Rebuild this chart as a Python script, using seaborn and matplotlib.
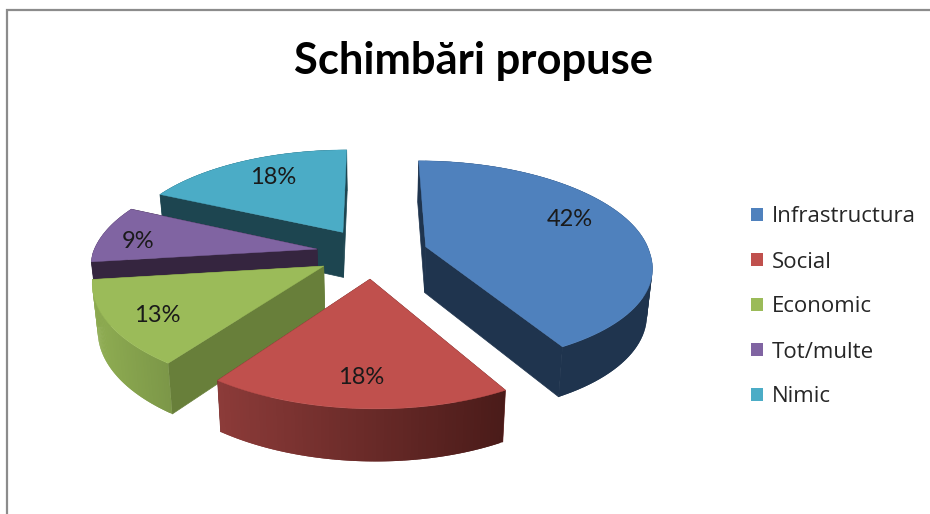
import numpy as np
import seaborn as sns
import matplotlib.pyplot as plt
from matplotlib.patches import Patch
from matplotlib.colors import to_rgb

# data
categories = ['Infrastructura', 'Social', 'Economic', 'Tot/multe', 'Nimic']
values = [42, 18, 13, 9, 18]
title = 'Schimbări propuse'

# colours: top face, flat side, rim left end, rim right end
top_colors = ['#4f81bd', '#c0504d', '#9bbb59', '#8064a2', '#4bacc6']
side_colors = ['#1f344e', '#6f2e2c', '#687f3a', '#35253f', '#1d4550']
rim_left = ['#1f344e', '#8c3b39', '#8fad52', '#35253f', '#1d4550']
rim_right = ['#1f344e', '#4a1b19', '#7c9748', '#35253f', '#1d4550']

# where the percent labels sit
label_x = [570, 361, 157, 138, 273]
label_y = [219, 378, 315, 241, 177]

# painter's order, back to front
draw_order = [4, 0, 3, 2, 1]

# perspective of the pie
cx, cy = 372, 253
rx, ry = 224, 100.9
persp = 0.153
shear = 6.5
explode = 0.25
depth = 46

sns.set_theme(style='white')
plt.rcParams['font.family'] = ['Lato', 'DejaVu Sans']


def project(x, y, low=False):
    w = 1 + persp * y
    sx = rx * x / w + shear * np.maximum(0, -y)
    sy = -ry * y / w
    if low:
        return cx + sx * 0.98, cy + sy + depth / (1 + 0.1 * y)
    return cx + sx, cy + sy


fig = plt.figure(figsize=(9.3, 5.14), dpi=100)
ax = fig.add_axes([0, 0, 1, 1])
ax.set_xlim(0, 930)
ax.set_ylim(514, 0)
ax.axis('off')

# chart frame
ax.plot([7, 7, 930], [514, 10, 10], color='#8c8c8c', lw=1.6, solid_joinstyle='miter')

edges = np.cumsum([0] + values) / sum(values) * 2 * np.pi
for i in draw_order:
    t0, t1 = edges[i], edges[i + 1]
    mid = (t0 + t1) / 2
    ox, oy = explode * np.sin(mid), explode * np.cos(mid)
    t = np.linspace(t0, t1, 80)
    xs = ox + np.sin(t)
    ys = oy + np.cos(t)

    # flat cut faces
    for a in (t0, t1):
        ex, ey = ox + np.sin(a), oy + np.cos(a)
        p = [project(ox, oy), project(ex, ey), project(ex, ey, True), project(ox, oy, True)]
        ax.fill(*zip(*p), color=side_colors[i], lw=0.5)

    # rim, strip by strip so the shade can run from left to right
    # each strip runs over the next one, otherwise the seams show
    tx, ty = project(xs, ys)
    bx, by = project(xs, ys, True)
    left, right = tx.min(), tx.max()
    c0, c1 = np.array(to_rgb(rim_left[i])), np.array(to_rgb(rim_right[i]))
    for k in range(len(t) - 1):
        n = min(k + 2, len(t) - 1)
        f = ((tx[k] + tx[k + 1]) / 2 - left) / (right - left)
        ax.fill([tx[k], tx[n], bx[n], bx[k]], [ty[k], ty[n], by[n], by[k]],
                color=c0 + (c1 - c0) * f, lw=0)

    # top face
    ax0, ay0 = project(ox, oy)
    ax.fill(np.r_[ax0, tx], np.r_[ay0, ty], color=top_colors[i], lw=0.3)

for v, lx, ly in zip(values, label_x, label_y):
    ax.text(lx, ly, f'{v}%', fontsize=17, color='#1a1a1a', ha='center', va='center')

ax.text(473.5, 61, title, fontsize=31.3, fontweight='bold', color='black', ha='center', va='center')

handles = [Patch(facecolor=c, edgecolor='none', label=n) for c, n in zip(top_colors, categories)]
fig.legend(handles=handles, loc='center left', bbox_to_anchor=(731 / 930, 1 - 307 / 514), frameon=False,
           handlelength=0.55, handleheight=0.55, handletextpad=0.38, labelspacing=1.08,
           labelcolor='#262626', prop={'family': 'Open Sans', 'size': 16})

fig.savefig('out.png', dpi=100)
